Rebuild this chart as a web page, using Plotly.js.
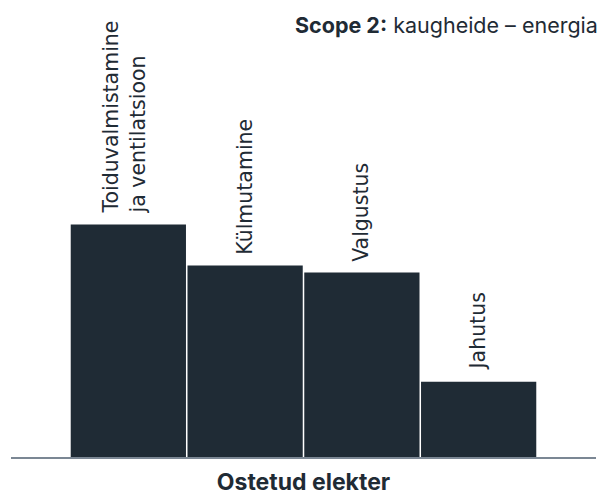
<!DOCTYPE html>
<html>
<head>
<meta charset="utf-8">
<script src="https://cdn.plot.ly/plotly-3.0.1.min.js"></script>
<style>html,body{margin:0;padding:0;background:#fff}#chart{width:603px;height:496px}</style>
</head>
<body>
<div id="chart"></div>
<script>
const categories = ['Toiduvalmistamine', 'Külmutamine', 'Valgustus', 'Jahutus'];
const labels = ['Toiduvalmistamine<br>ja ventilatsioon', 'Külmutamine', 'Valgustus', 'Jahutus'];
const values = [34, 28, 27, 11];
const chartTitle = '<b>Scope 2:</b> kaugheide – energia';
const axisTitle = 'Ostetud elekter';

const dark = '#1f2b35';
const labelFont = {family: 'DejaVu Sans, sans-serif', size: 20.5, color: dark};

const annotations = categories.map((c, i) => ({
  x: c, y: values[i], xref: 'x', yref: 'y',
  text: labels[i], textangle: -90, showarrow: false,
  xanchor: 'center', yanchor: 'bottom', align: 'left',
  yshift: 9, xshift: labels[i].includes('<br>') ? -4 : -1, font: labelFont
}));
annotations.push({
  x: 1, y: 0.966, xref: 'paper', yref: 'paper', xanchor: 'right', yanchor: 'middle',
  text: chartTitle, showarrow: false, xshift: 4,
  font: {family: 'Inter, sans-serif', size: 21.5, color: dark}
});

Plotly.newPlot('chart', [{
  type: 'bar', x: categories, y: values,
  marker: {color: dark, line: {width: 0}},
  hoverinfo: 'none'
}], {
  width: 603, height: 496,
  margin: {l: 11, r: 7, t: 10, b: 39},
  paper_bgcolor: '#fff', plot_bgcolor: '#fff',
  bargap: 0.013,
  showlegend: false,
  xaxis: {
    type: 'category', range: [-1.005, 4.005],
    showticklabels: false, ticks: '', showgrid: false, zeroline: false,
    showline: true, linecolor: '#7b8794', linewidth: 1.5,
    title: {text: '<b>' + axisTitle + '</b>', standoff: 21,
            font: {family: 'Inter, sans-serif', size: 23, color: dark}},
    automargin: false, fixedrange: true
  },
  yaxis: {range: [0, 65.4], visible: false, fixedrange: true},
  annotations: annotations
}, {displayModeBar: false, staticPlot: true});
</script>
</body>
</html>
